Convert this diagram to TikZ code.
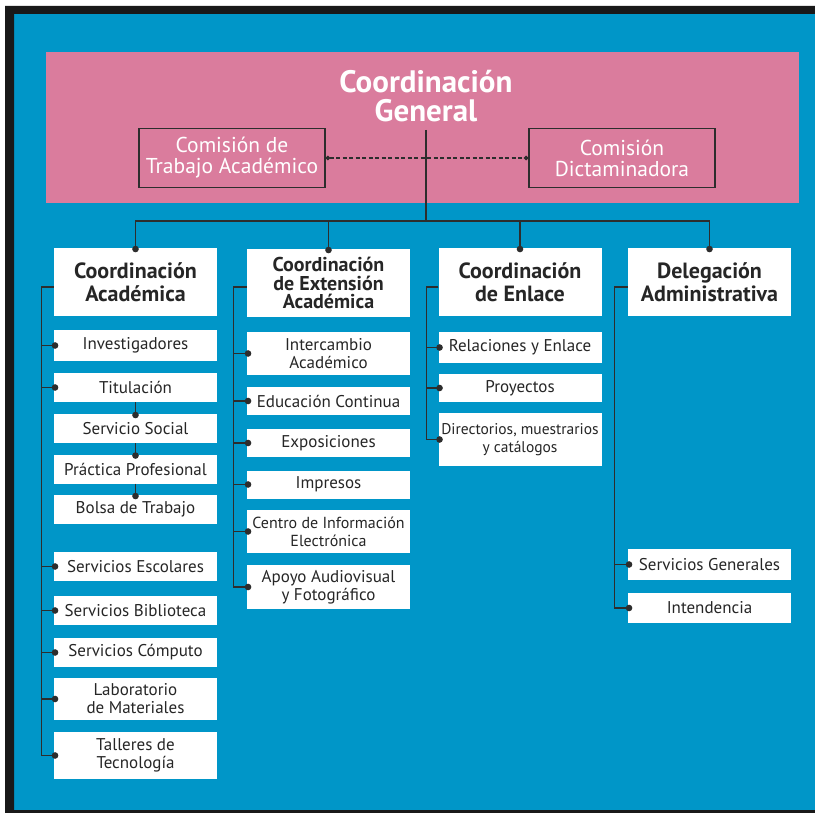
\documentclass[tikz,border=0pt]{standalone}
\usepackage{fontspec}
\setmainfont{PT Sans}
\usetikzlibrary{arrows.meta}
\definecolor{fondo}{RGB}{0,150,200}
\definecolor{rosa}{RGB}{218,124,157}
\definecolor{linea}{RGB}{45,45,45}

\begin{document}
\begin{tikzpicture}[x=1pt,y=-1pt,
    head/.style={fill=white, text=black!85, font=\fontsize{22}{22.5}\selectfont\bfseries, align=center, minimum width=163pt, minimum height=68pt, inner sep=0pt},
    unit/.style={fill=white, text=black!85, font=\fontsize{17}{18}\selectfont, align=center, minimum width=163pt, inner sep=0pt},
    comm/.style={draw=linea, line width=1.4pt, text=white, font=\fontsize{21.5}{21}\selectfont, align=center, minimum width=186pt, minimum height=59pt},
    link/.style={draw=linea, line width=1.1pt},
    dotend/.style={-{Circle[length=6.5pt]}, shorten >=-4.5pt}]
    \useasboundingbox (0,0) rectangle (815,813);
    \fill[fondo] (5,6) rectangle (815,813);
    \fill[black!90] (5,6) rectangle (14,813) (5,6) rectangle (815,14) (5,810) rectangle (815,813);
    \fill[rosa] (46,52) rectangle (799,203);

    % coordinacion general y comisiones
    \node[text=white, font=\fontsize{31}{28.5}\selectfont\bfseries, align=center, inner sep=0pt] (cg) at (426,96) {Coordinación\\General};
    \node[comm] (cta) at (232,158) {Comisión de\\Trabajo Académico};
    \node[comm] (cd) at (622,158) {Comisión\\Dictaminadora};
    \coordinate (bus) at (426,221);

    % coordinaciones
    \node[head] (ca) at (135.5,282) {Coordinación\\Académica};
    \node[head, font=\fontsize{20}{18.5}\selectfont\bfseries] (cea) at (328.5,283) {Coordinación\\de Extensión\\Académica};
    \node[head] (cen) at (520,282) {Coordinación\\de Enlace};
    \node[head] (da) at (709.5,282) {Delegación\\Administrativa};

    % coordinacion academica
    \node[unit, minimum height=31pt] (inv) at (135.5,345.5) {Investigadores};
    \node[unit, minimum height=29pt] (tit) at (135.5,387.5) {Titulación};
    \node[unit, minimum height=29pt] (ss) at (135.5,428.5) {Servicio Social};
    \node[unit, minimum height=29pt] (pp) at (135.5,469) {Práctica Profesional};
    \node[unit, minimum height=29pt] (bt) at (135.5,509.5) {Bolsa de Trabajo};
    \node[unit, minimum height=29pt] (sesc) at (135.5,566.5) {Servicios Escolares};
    \node[unit, minimum height=29pt] (sbib) at (135.5,610.5) {Servicios Biblioteca};
    \node[unit, minimum height=29pt] (scom) at (135.5,652.5) {Servicios Cómputo};
    \node[unit, minimum height=42pt] (lab) at (135.5,699) {Laboratorio\\de Materiales};
    \node[unit, minimum height=47pt] (tal) at (135.5,755.5) {Talleres de\\Tecnología};

    % coordinacion de extension academica
    \node[unit, minimum height=43pt] (ia) at (328.5,353.5) {Intercambio\\Académico};
    \node[unit, minimum height=28pt] (ec) at (328.5,401) {Educación Continua};
    \node[unit, minimum height=28pt] (exp) at (328.5,443) {Exposiciones};
    \node[unit, minimum height=28pt] (imp) at (328.5,484.5) {Impresos};
    \node[unit, minimum height=43pt, font=\fontsize{16}{18}\selectfont] (cie) at (328.5,531.5) {Centro de Información\\Electrónica};
    \node[unit, minimum height=44pt] (aaf) at (328.5,587) {Apoyo Audiovisual\\y Fotográfico};

    % coordinacion de enlace
    \node[unit, minimum height=31pt] (rye) at (520,347.5) {Relaciones y Enlace};
    \node[unit, minimum height=28pt] (pro) at (520,388) {Proyectos};
    \node[unit, minimum height=53pt, font=\fontsize{15.5}{18}\selectfont] (dir) at (520,439.5) {Directorios, muestrarios\\y catálogos};

    % delegacion administrativa
    \node[unit, minimum height=31pt] (sg) at (709.5,564.5) {Servicios Generales};
    \node[unit, minimum height=30pt] (int) at (709.5,608) {Intendencia};

    % conectores
    \draw[link] ([yshift=-8pt]cg.south) -- (bus);
    \draw[link, dash pattern=on 4pt off 2.5pt, {Circle[length=4.5pt]}-{Circle[length=4.5pt]}] (cta.east) -- (cd.west);
    \foreach \h in {ca,cea,cen,da}
        \draw[link, dotend] (bus) -| (\h.north);
    \foreach \u in {inv,tit,sesc,sbib,scom,lab,tal}
        \draw[link, dotend] ([yshift=-5pt]ca.west) -- ++(-12,0) |- (\u.west);
    \foreach \a/\b in {tit/ss,ss/pp,pp/bt}
        \draw[link, dotend] (\a.south) -- (\b.north);
    \foreach \u in {ia,ec,exp,imp,cie,aaf}
        \draw[link, dotend] ([yshift=-4pt]cea.west) -- ++(-13,0) |- (\u.west);
    \foreach \u in {rye,pro,dir}
        \draw[link, dotend] ([yshift=-5pt]cen.west) -- ++(-12,0) |- (\u.west);
    \foreach \u in {sg,int}
        \draw[link, dotend] ([yshift=-5pt]da.west) -- ++(-13,0) |- (\u.west);
\end{tikzpicture}
\end{document}
